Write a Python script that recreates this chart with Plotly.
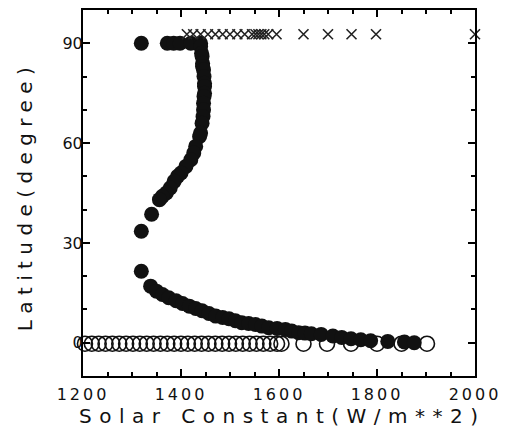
import plotly.graph_objects as go

# Filled circles: latitude of the ice edge vs solar constant
filled_s = [1319, 1372, 1385, 1398, 1420, 1440,
            1440, 1442, 1443, 1444, 1444, 1446, 1447, 1448, 1448, 1448, 1447, 1446, 1446, 1445,
            1443, 1440, 1438, 1430, 1426, 1420, 1410, 1400, 1393, 1386, 1378, 1370, 1362, 1356,
            1340, 1319,
            1319, 1338, 1350, 1362, 1375, 1390, 1403, 1417, 1430, 1443, 1457, 1471, 1485, 1498,
            1511, 1524, 1538, 1552, 1565, 1579, 1596, 1613, 1626, 1640, 1653, 1666, 1686, 1710,
            1728, 1747, 1767, 1787, 1822, 1856, 1876]
filled_lat = [90, 90, 90, 90, 90, 90,
              89, 87, 86, 84, 83, 82, 80, 78, 77, 75, 74, 72, 70, 68,
              66, 63, 62, 59, 57, 55, 53, 51, 50, 48.5, 46.5, 45, 44, 43,
              38.6, 33.5,
              21.5, 17, 15.5, 14.5, 13.5, 12.6, 11.8, 11, 10.3, 9.6, 8.8, 8, 7.6, 7.2,
              6.6, 6, 5.8, 5.5, 5, 4.5, 4.3, 4, 3.5, 3, 2.9, 2.7, 2.5, 2,
              1.6, 1.2, 0.9, 0.6, 0.4, 0.2, 0]

# Open circles: ice-free (equatorial) states
open_s = [1204, 1218, 1232, 1246, 1260, 1274, 1288, 1302, 1316, 1330, 1344, 1358, 1372,
          1386, 1400, 1414, 1428, 1442, 1456, 1470, 1484, 1498, 1512, 1526, 1540, 1554,
          1568, 1582, 1596, 1605, 1650, 1698, 1747, 1800, 1850, 1902]
open_lat = [-0.3] * len(open_s)

# Crosses: fully ice-covered / polar states
cross_s = [1412, 1425, 1440, 1455, 1470, 1485, 1500, 1515, 1530, 1545, 1552, 1558,
           1564, 1570, 1578, 1595, 1650, 1700, 1748, 1798, 2000]
cross_lat = [92.7] * len(cross_s)

x_ticks = [1200, 1400, 1600, 1800, 2000]
y_ticks = [0, 30, 60, 90]
x_title = "Solar Constant(W/m**2)"
y_title = "Latitude(degree)"

FONT = "DejaVu Sans"

fig = go.Figure()
fig.add_trace(go.Scatter(
    x=open_s, y=open_lat, mode="markers",
    marker=dict(symbol="circle-open", size=15, color="#111",
                line=dict(width=1.6, color="#111")),
    cliponaxis=False, showlegend=False))
fig.add_trace(go.Scatter(
    x=filled_s, y=filled_lat, mode="markers",
    marker=dict(symbol="circle", size=15, color="#111",
                line=dict(width=0)),
    cliponaxis=False, showlegend=False))
fig.add_trace(go.Scatter(
    x=cross_s, y=cross_lat, mode="markers",
    marker=dict(symbol="x-thin", size=10, color="#222",
                line=dict(width=1.6, color="#222")),
    cliponaxis=False, showlegend=False))

axis_common = dict(
    showgrid=False, zeroline=False, showline=True, linecolor="black", linewidth=2,
    mirror="allticks", ticks="inside", tickcolor="black", tickwidth=1.5, ticklen=7,
    tickfont=dict(family=FONT, size=16, color="#111"),
)

fig.update_xaxes(
    **axis_common, range=[1200, 2000], tickvals=x_ticks,
    ticktext=[f'<span style="letter-spacing:3px">{v}</span>' for v in x_ticks],
    ticklabelstandoff=3,
    minor=dict(dtick=50, ticks="inside", ticklen=4, tickcolor="black", tickwidth=1.5),
)
fig.update_yaxes(
    **axis_common, range=[-10, 100], tickvals=y_ticks,
    ticktext=[str(v) for v in y_ticks],
    ticklabelstandoff=-5,
    minor=dict(dtick=10, ticks="inside", ticklen=4, tickcolor="black", tickwidth=1.5),
)

# Axis titles as widely spaced annotations
title_font = dict(family=FONT, size=20, color="#111")
fig.add_annotation(
    text=f'<span style="letter-spacing:7.5px">{x_title}</span>',
    xref="paper", yref="paper", x=0.51, y=-0.11,
    xanchor="center", yanchor="middle", showarrow=False, font=title_font)
fig.add_annotation(
    text=f'<span style="letter-spacing:6.4px">{y_title}</span>',
    xref="paper", yref="paper", x=-0.147, y=0.492, textangle=-90,
    xanchor="center", yanchor="middle", showarrow=False, font=title_font)

fig.update_layout(
    width=509, height=434,
    margin=dict(l=83, r=31, t=8, b=58),
    paper_bgcolor="white", plot_bgcolor="white",
)

fig.write_html("out.html")
